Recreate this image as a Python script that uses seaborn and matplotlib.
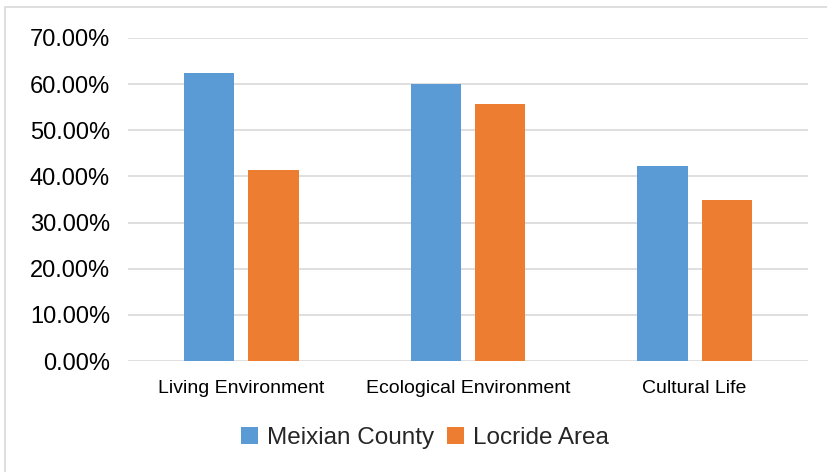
import matplotlib
matplotlib.use("Agg")
import matplotlib.pyplot as plt
from matplotlib.patches import Rectangle
from matplotlib.ticker import PercentFormatter
import seaborn as sns
import pandas as pd

categories = ["Living Environment", "Ecological Environment", "Cultural Life"]
series_names = ["Meixian County", "Locride Area"]
meixian = [0.625, 0.600, 0.422]
locride = [0.414, 0.557, 0.350]
y_ticks = [0.0, 0.1, 0.2, 0.3, 0.4, 0.5, 0.6, 0.7]

df = pd.DataFrame({
    "category": categories * 2,
    "series": [series_names[0]] * 3 + [series_names[1]] * 3,
    "value": meixian + locride,
})

sns.set_theme(style="white")
plt.rcParams["font.family"] = ["Liberation Sans", "DejaVu Sans"]

fig = plt.figure(figsize=(8.27, 4.72), dpi=100)
fig.patches.append(Rectangle((5 / 827, -0.01), 1.0, 1 - 7 / 472 + 0.01,
                             transform=fig.transFigure, fill=False,
                             edgecolor="#D9D9D9", linewidth=1.2, zorder=0))
ax = fig.add_axes([128 / 827, 1 - 361 / 472, 680 / 827, 323 / 472])

sns.barplot(data=df, x="category", y="value", hue="series",
            palette=["#5B9BD5", "#ED7D31"], width=0.57, gap=0.22,
            saturation=1, linewidth=0, ax=ax, legend=True, zorder=3)

ax.set_ylim(0, 0.7)
ax.set_yticks(y_ticks)
ax.yaxis.set_major_formatter(PercentFormatter(1.0, decimals=2))
ax.set_xlim(-0.5, 2.5)
ax.grid(axis="y", color="#D9D9D9", linewidth=1.2, zorder=0)
ax.set_axisbelow(True)
for s in ax.spines.values():
    s.set_visible(False)
ax.tick_params(axis="y", labelsize=17, colors="#000000", pad=13, length=0)
ax.tick_params(axis="x", labelsize=14, colors="#000000", pad=14, length=0)
ax.set_xlabel("")
ax.set_ylabel("")

handles, labels = ax.get_legend_handles_labels()
ax.legend(handles, labels, loc="center", bbox_to_anchor=(425 / 827, 1 - 438 / 472),
          bbox_transform=fig.transFigure, ncol=2, frameon=False,
          fontsize=17.5, handlelength=0.7, handleheight=0.7,
          handletextpad=0.4, columnspacing=0.5)

fig.savefig("out.png", dpi=100)
